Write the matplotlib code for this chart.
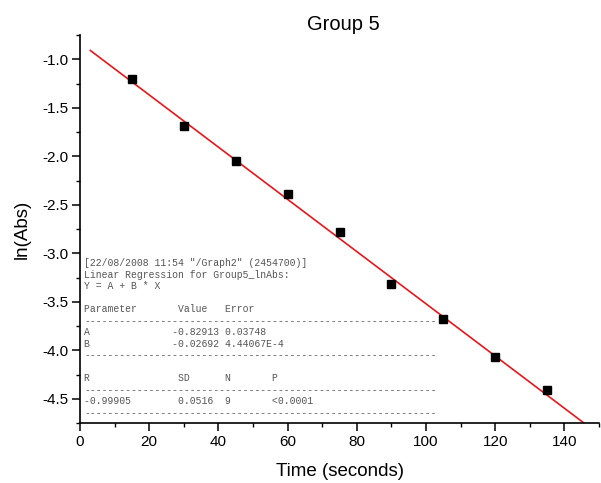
import matplotlib

matplotlib.use("Agg")
from matplotlib import pyplot as plt
from matplotlib.ticker import MultipleLocator
import numpy as np

# data
time_s = [15, 30, 45, 60, 75, 90, 105, 120, 135]
ln_abs = [-1.20, -1.685, -2.05, -2.385, -2.78, -3.32, -3.68, -4.065, -4.41]

# fit parameters shown in the report box
fit_a = -0.82913
fit_b = -0.02692
fit_x = [3, 150]

report_lines = [
    '[22/08/2008 11:54 "/Graph2" (2454700)]',
    "Linear Regression for Group5_lnAbs:",
    "Y = A + B * X",
    "",
    "Parameter       Value   Error",
    "-" * 60,
    "A              -0.82913 0.03748",
    "B              -0.02692 4.44067E-4",
    "-" * 60,
    "",
    "R               SD      N       P",
    "-" * 60,
    "-0.99905        0.0516  9       <0.0001",
    "-" * 60,
]

W, H = 601, 483
plt.rcParams["font.family"] = ["Liberation Sans", "DejaVu Sans"]
plt.rcParams["axes.unicode_minus"] = False

fig = plt.figure(figsize=(W / 100, H / 100), dpi=100)
ax = fig.add_axes([80 / W, 1 - 423 / H, 519 / W, 388 / H])

fx = np.array(fit_x, dtype=float)
ax.plot(fx, fit_a + fit_b * fx, color="#e8161b", linewidth=1.2, zorder=2)
ax.plot(time_s, ln_abs, linestyle="none", marker="s", markersize=6,
        color="black", zorder=3)

ax.set_xlim(0, 150)
ax.set_ylim(-4.75, -0.75)
ax.xaxis.set_major_locator(MultipleLocator(20))
ax.xaxis.set_minor_locator(MultipleLocator(10))
ax.yaxis.set_major_locator(MultipleLocator(0.5))
ax.yaxis.set_minor_locator(MultipleLocator(0.25))

for side in ("top", "right"):
    ax.spines[side].set_visible(False)
for side in ("left", "bottom"):
    ax.spines[side].set_linewidth(1.2)

ax.tick_params(which="major", direction="out", length=5.5, width=1.1,
               labelsize=11, pad=3)
ax.tick_params(which="minor", direction="out", length=3.2, width=1.0)

# axis titles and chart title, placed by pixel
fig.text(339.5 / W, 1 - 472 / H, "Time (seconds)", fontsize=13.5,
         ha="center", va="center")
fig.text(22 / W, 1 - 229 / H, "ln(Abs)", fontsize=13.5, rotation=90,
         ha="center", va="center")
fig.text(343 / W, 1 - 24 / H, "Group 5", fontsize=14.5,
         ha="center", va="center")

# regression report, one line at a time
for i, line in enumerate(report_lines):
    if not line:
        continue
    base_px = 266.3 + 11.5 * i
    fig.text(84 / W, 1 - base_px / H, line, fontsize=7,
             family="Liberation Mono", color="#555555",
             ha="left", va="baseline")

fig.savefig("out.png", dpi=100)
